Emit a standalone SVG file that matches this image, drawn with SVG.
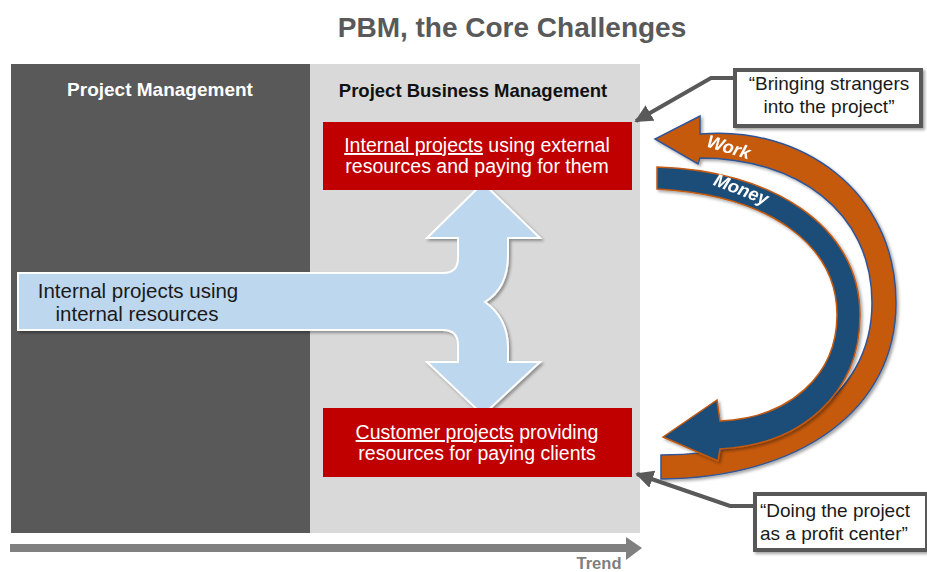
<svg xmlns="http://www.w3.org/2000/svg" width="927" height="572" viewBox="0 0 927 572">
  <style>
    text { font-family: "Liberation Sans", Arial, sans-serif; }
    .title { font-size: 28px; font-weight: bold; fill: #595959; }
    .hdr { font-weight: bold; }
    .red-txt { font-size: 19.5px; fill: #ffffff; }
    .blue-txt { font-size: 20.5px; fill: #1a1a1a; }
    .call-txt { font-size: 19px; fill: #1a1a1a; }
    .flow-lbl { font-size: 18px; font-weight: bold; font-style: italic; fill: #ffffff; }
    .u { text-decoration: underline; }
    .callout-box { fill: #ffffff; stroke: #595959; stroke-width: 4; }
    .callout-line { fill: none; stroke: #595959; stroke-width: 4; stroke-linejoin: miter; }
  </style>
  <defs>
    <filter id="shadow" x="-10%" y="-10%" width="130%" height="130%">
      <feDropShadow dx="2" dy="2" stdDeviation="1.5" flood-color="#000000" flood-opacity="0.35"/>
    </filter>
    <marker id="grayHead" viewBox="0 0 10 10" refX="9" refY="5" markerWidth="4.5" markerHeight="4.5" orient="auto" markerUnits="strokeWidth">
      <path d="M0,0 L10,5 L0,10 Z" fill="#595959"/>
    </marker>
  </defs>

  <!-- heading -->
  <text class="title" x="512" y="37" text-anchor="middle">PBM, the Core Challenges</text>

  <!-- background panels -->
  <g id="panel-pm">
    <rect x="11" y="64" width="299" height="469" fill="#595959"/>
    <text class="hdr" x="160" y="96" text-anchor="middle" font-size="19" fill="#ffffff">Project Management</text>
  </g>
  <g id="panel-pbm">
    <rect x="310" y="64" width="330" height="469" fill="#d9d9d9"/>
    <text class="hdr" x="473" y="97" text-anchor="middle" font-size="18.5" fill="#111111">Project Business Management</text>
  </g>

  <!-- trend axis -->
  <g id="trend">
    <rect x="10" y="544" width="618" height="8" fill="#808080"/>
    <path d="M626,537 L642,548 L626,560 Z" fill="#808080"/>
    <text x="599" y="569" text-anchor="middle" font-size="16.5" font-weight="bold" fill="#7f7f7f">Trend</text>
  </g>

  <!-- split arrow from internal projects -->
  <g id="internal">
    <path d="M18,273 L443,273 Q458,273 458,258 L458,238 L427,238 L483,183 L540,238 L508,238 L508,255 Q508,288 485,302 Q508,318 508,348 L508,362 L540,362 L483,415 L427,362 L458,362 L458,345 Q458,330 443,330 L18,330 Z" fill="#bdd7ee" stroke="#ffffff" stroke-width="2" filter="url(#shadow)"/>
    <text class="blue-txt" x="138" y="298" text-anchor="middle">Internal projects using</text>
    <text class="blue-txt" x="137" y="321" text-anchor="middle">internal resources</text>
  </g>

  <!-- red boxes -->
  <g id="internal-external">
    <rect x="323" y="122" width="309" height="68" fill="#c00000"/>
    <text class="red-txt" x="477" y="152" text-anchor="middle"><tspan class="u">Internal projects</tspan> using external</text>
    <text class="red-txt" x="477" y="173" text-anchor="middle">resources and paying for them</text>
  </g>
  <g id="customer">
    <rect x="323" y="408" width="309" height="69" fill="#c00000"/>
    <text class="red-txt" x="477" y="439" text-anchor="middle"><tspan class="u">Customer projects</tspan> providing</text>
    <text class="red-txt" x="477" y="460" text-anchor="middle">resources for paying clients</text>
  </g>

  <!-- work / money cycle -->
  <g id="work" filter="url(#shadow)">
    <path d="M661,479 C800,478 896,410 896,303 C896,190 800,125 700,134 L700,116 L655,139 L698,164 L700,158 C795,158 872,210 872,303 C872,400 780,455 661,455 Z" fill="#c55a11" stroke="#2f5597" stroke-width="1.5"/>
    <text class="flow-lbl" transform="translate(727,153) rotate(17)" text-anchor="middle" y="0">Work</text>
  </g>
  <g id="money" filter="url(#shadow)">
    <path d="M657,167 C770,170 860,225 860,315 C860,395 800,445 720,449 L718,461 L663,437 L717,400 L720,421 C790,418 837,375 837,315 C837,245 770,195 657,189 Z" fill="#1f4e79" stroke="#c55a11" stroke-width="1.5"/>
    <text class="flow-lbl" transform="translate(739,195) rotate(21)" text-anchor="middle" y="0">Money</text>
  </g>

  <!-- callouts -->
  <g id="callout-strangers">
    <rect class="callout-box" x="735" y="70" width="186" height="56" filter="url(#shadow)"/>
    <text class="call-txt" x="829" y="90" text-anchor="middle">“Bringing strangers</text>
    <text class="call-txt" x="829" y="113" text-anchor="middle">into the project”</text>
  </g>
  <g id="callout-profit">
    <rect class="callout-box" x="755" y="494" width="172" height="56" filter="url(#shadow)"/>
    <text class="call-txt" x="760" y="517">“Doing the project</text>
    <text class="call-txt" x="760" y="540">as a profit center”</text>
  </g>

  <g id="connectors">
    <path class="callout-line" d="M735,78 L711,78 L636,121" marker-end="url(#grayHead)"/>
    <path class="callout-line" d="M755,506 L730,506 L637,474" marker-end="url(#grayHead)"/>
  </g>
</svg>
